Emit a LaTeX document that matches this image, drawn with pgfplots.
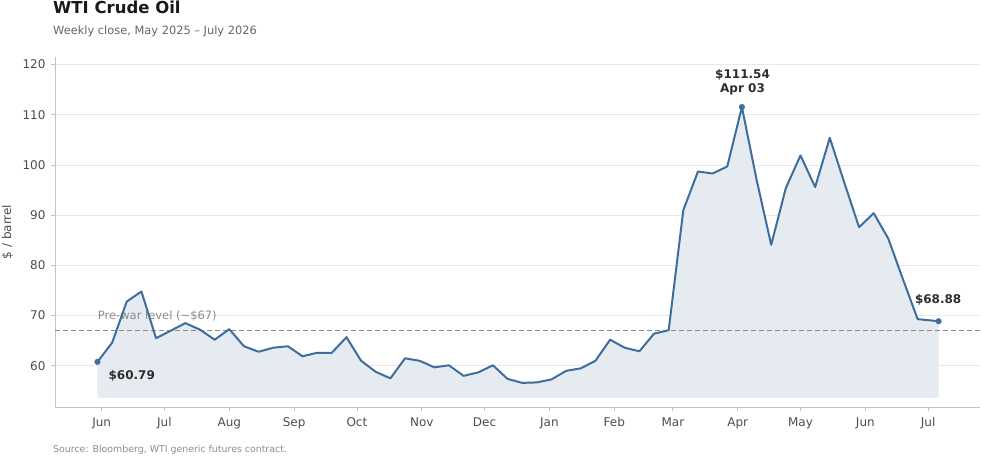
\documentclass[border=0pt]{standalone}
\usepackage{fontspec}
\setmainfont{DejaVu Sans}
\usepackage{pgfplots}
\pgfplotsset{compat=1.18}
\usepgfplotslibrary{fillbetween}
\usepackage{pgfplotstable}

\definecolor{linec}{HTML}{3F6D9C}
\definecolor{fillc}{HTML}{E5EBF1}
\definecolor{gridc}{HTML}{E8E8E8}
\definecolor{spinec}{HTML}{C4C4C4}
\definecolor{tickc}{HTML}{4D4D4D}
\definecolor{annc}{HTML}{2E2E2E}
\definecolor{refc}{HTML}{8A8A8A}

% day = days since 1 Jun 2025
\pgfplotstableread{
day price
-2 60.79
5 64.6
12 72.8
19 74.8
26 65.5
33 67.0
40 68.5
47 67.2
54 65.2
61 67.3
68 63.9
75 62.8
82 63.6
89 63.9
96 61.9
103 62.6
110 62.6
117 65.7
124 61.0
131 58.8
138 57.5
145 61.5
152 61.0
159 59.7
166 60.1
173 58.0
180 58.7
187 60.1
194 57.4
201 56.6
208 56.7
215 57.3
222 59.0
229 59.5
236 61.0
243 65.2
250 63.6
257 62.9
264 66.4
271 67.1
278 91.0
285 98.7
292 98.3
299 99.7
306 111.54
313 97.1
320 84.1
327 95.4
334 101.9
341 95.6
348 105.4
355 96.4
362 87.6
369 90.4
376 85.3
383 77.2
390 69.3
400 68.88
}\wti

\pgfplotstableread{
day price
-2 60.79
306 111.54
400 68.88
}\highlights

\begin{document}
\begin{tikzpicture}
\path (0pt,0pt) rectangle (982pt,455pt);
\begin{axis}[
  at={(55pt,48pt)}, anchor=south west,
  scale only axis, width=925pt, height=350pt,
  xmin=-22.3, xmax=419.8, ymin=51.8, ymax=121.5,
  axis x line*=bottom, axis y line*=left,
  axis line style={spinec, line width=0.8pt},
  xtick={0,30,61,92,122,153,183,214,245,273,304,334,365,395},
  xticklabels={Jun,Jul,Aug,Sep,Oct,Nov,Dec,Jan,Feb,Mar,Apr,May,Jun,Jul},
  ytick={60,70,80,90,100,110,120},
  tick align=outside, major tick length=4pt,
  tick style={spinec, line width=0.8pt},
  ymajorgrids, grid style={gridc, line width=0.8pt},
  ticklabel style={font=\fontsize{12}{14}\selectfont, text=tickc},
  yticklabel style={xshift=-2pt},
  xticklabel style={yshift=-2.5pt, text height=9pt, text depth=2.5pt},
  /pgf/number format/assume math mode=true,
  clip=false,
]
\addplot[name path=base, draw=none, forget plot] coordinates {(-2,53.6) (400,53.6)};
\addplot[name path=price, draw=none, forget plot] table[x=day, y=price] {\wti};
\addplot[fillc, forget plot] fill between[of=price and base];
\addplot[refc, line width=1pt, dash pattern=on 5pt off 3pt] coordinates {(-22.3,67) (419.8,67)};
\node[anchor=base west, inner sep=0pt, text=refc, font=\fontsize{11.5}{13}\selectfont] at (axis cs:-1.9,69.2) {Pre-war level (\textasciitilde\$67)};
\addplot[linec, line width=2pt, line join=round] table[x=day, y=price] {\wti};
\addplot[only marks, mark=*, mark size=2.8pt, linec, mark options={draw=linec, fill=linec}] table[x=day, y=price] {\highlights};
\node[anchor=base west, inner sep=0pt, text=annc, font=\bfseries\fontsize{12}{14}\selectfont] at (axis cs:3.2,57.3) {\$60.79};
\node[anchor=base, inner sep=0pt, text=annc, font=\bfseries\fontsize{12}{14}\selectfont] at (axis cs:306.3,117.3) {\$111.54};
\node[anchor=base, inner sep=0pt, text=annc, font=\bfseries\fontsize{12}{14}\selectfont] at (axis cs:306.3,114.5) {Apr 03};
\node[anchor=base, inner sep=0pt, text=annc, font=\bfseries\fontsize{12}{14}\selectfont] at (axis cs:399.8,72.5) {\$68.88};
\end{axis}
\node[anchor=base west, inner sep=0pt, font=\bfseries\fontsize{16.5}{19}\selectfont, text=black!90] at (53pt,441.7pt) {WTI Crude Oil};
\node[anchor=base west, inner sep=0pt, font=\fontsize{11.4}{13}\selectfont, text=black!60] at (53pt,420pt) {Weekly close, May 2025 – July 2026};
\node[rotate=90, inner sep=0pt, font=\fontsize{12}{14}\selectfont, text=tickc] at (7.5pt,223pt) {\$ / barrel};
\node[anchor=base west, inner sep=0pt, font=\fontsize{9.4}{11}\selectfont, text=black!45] at (53pt,2.5pt) {Source: Bloomberg, WTI generic futures contract.};
\end{tikzpicture}
\end{document}
